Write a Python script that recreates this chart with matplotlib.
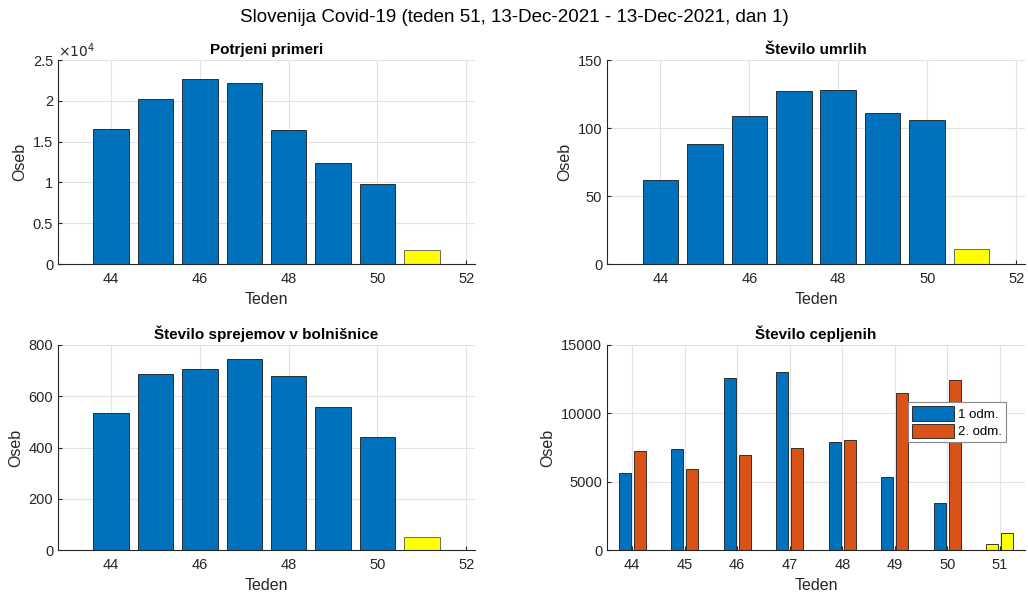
import matplotlib
matplotlib.use("Agg")
import matplotlib.pyplot as plt
import numpy as np
from matplotlib.ticker import FuncFormatter

# Weekly data (week numbers)
weeks = [44, 45, 46, 47, 48, 49, 50]
current_week = 51

cases = [16500, 20200, 22700, 22150, 16400, 12350, 9750]
cases_now = 1710

deaths = [62, 88, 109, 127, 128, 111, 106]
deaths_now = 11

hospital = [535, 685, 706, 744, 680, 560, 441]
hospital_now = 51

dose1 = [5630, 7410, 12560, 13000, 7930, 5370, 3460]
dose2 = [7220, 5930, 6930, 7440, 8020, 11460, 12420]
dose1_now = 415
dose2_now = 1220

BLUE = "#0072BD"
ORANGE = "#D95319"
YELLOW = "#FFFF00"
AX_COLOR = "#262626"
GRID_COLOR = "#E2E2E2"

plt.rcParams["font.family"] = ["Liberation Sans", "DejaVu Sans"]
plt.rcParams["font.size"] = 10

fig = plt.figure(figsize=(10.28, 5.92), dpi=100)
W, H = 1028, 592


def make_axes(left, top, right, bottom):
    return fig.add_axes([left / W, 1 - bottom / H, (right - left) / W, (bottom - top) / H])


def style(ax, title):
    for side in ("top", "right"):
        ax.spines[side].set_visible(False)
    for side in ("left", "bottom"):
        ax.spines[side].set_color(AX_COLOR)
        ax.spines[side].set_linewidth(0.8)
    ax.tick_params(direction="in", colors=AX_COLOR, labelsize=10.5, length=3)
    ax.tick_params(axis="x", pad=6)
    ax.grid(True, color=GRID_COLOR, linewidth=0.8)
    ax.set_axisbelow(True)
    ax.set_title(title, fontsize=11, fontweight="bold", pad=4)
    ax.set_xlabel("Teden", fontsize=11.5, color=AX_COLOR, labelpad=4)
    ax.set_ylabel("Oseb", fontsize=11.5, color=AX_COLOR, labelpad=4)


def single_panel(ax, values, now, ymax, yticks, title):
    ax.bar(weeks, values, width=0.8, color=BLUE, edgecolor="#1a1a1a", linewidth=0.6)
    ax.bar([current_week], [now], width=0.8, color=YELLOW, edgecolor="#555555", linewidth=0.6)
    ax.set_xlim(42.8, 52.2)
    ax.set_ylim(0, ymax)
    ax.set_xticks([44, 46, 48, 50, 52])
    ax.set_yticks(yticks)
    style(ax, title)


ax1 = make_axes(58, 60, 475, 264)
single_panel(ax1, cases, cases_now, 25000, np.arange(0, 25001, 5000), "Potrjeni primeri")
ax1.yaxis.set_major_formatter(FuncFormatter(lambda v, p: "%g" % (v / 1e4)))
ax1.text(0.0, 1.0, r"$\times10^4$", transform=ax1.transAxes, fontsize=10,
         color=AX_COLOR, ha="left", va="bottom")

ax2 = make_axes(607, 60, 1025, 264)
single_panel(ax2, deaths, deaths_now, 150, [0, 50, 100, 150], "Število umrlih")

ax3 = make_axes(58, 345, 475, 550)
single_panel(ax3, hospital, hospital_now, 800, [0, 200, 400, 600, 800],
             "Število sprejemov v bolnišnice")

ax4 = make_axes(607, 345, 1025, 550)
off = 0.143
bw = 0.229
x = np.array(weeks)
ax4.bar(x - off, dose1, width=bw, color=BLUE, edgecolor="#1a1a1a", linewidth=0.6, label="1 odm.")
ax4.bar(x + off, dose2, width=bw, color=ORANGE, edgecolor="#1a1a1a", linewidth=0.6, label="2. odm.")
ax4.bar([current_week - off, current_week + off], [dose1_now, dose2_now], width=bw,
        color=YELLOW, edgecolor="#1a1a1a", linewidth=0.6)
ax4.set_xlim(43.52, 51.48)
ax4.set_ylim(0, 15000)
ax4.set_xticks(weeks + [current_week])
ax4.set_yticks([0, 5000, 10000, 15000])
style(ax4, "Število cepljenih")
leg = ax4.legend(loc="upper left", bbox_to_anchor=(0.72, 0.72), fontsize=9.5,
                 fancybox=False, framealpha=1, edgecolor="#888888",
                 handlelength=3.2, handleheight=1.3, handletextpad=0.3,
                 borderpad=0.3, labelspacing=0.2, borderaxespad=0)
leg.get_frame().set_linewidth(0.8)

fig.suptitle("Slovenija Covid-19 (teden 51, 13-Dec-2021 - 13-Dec-2021, dan 1)",
             fontsize=13.5, y=1 - 18 / H, va="center")

fig.savefig("out.png", dpi=100)
